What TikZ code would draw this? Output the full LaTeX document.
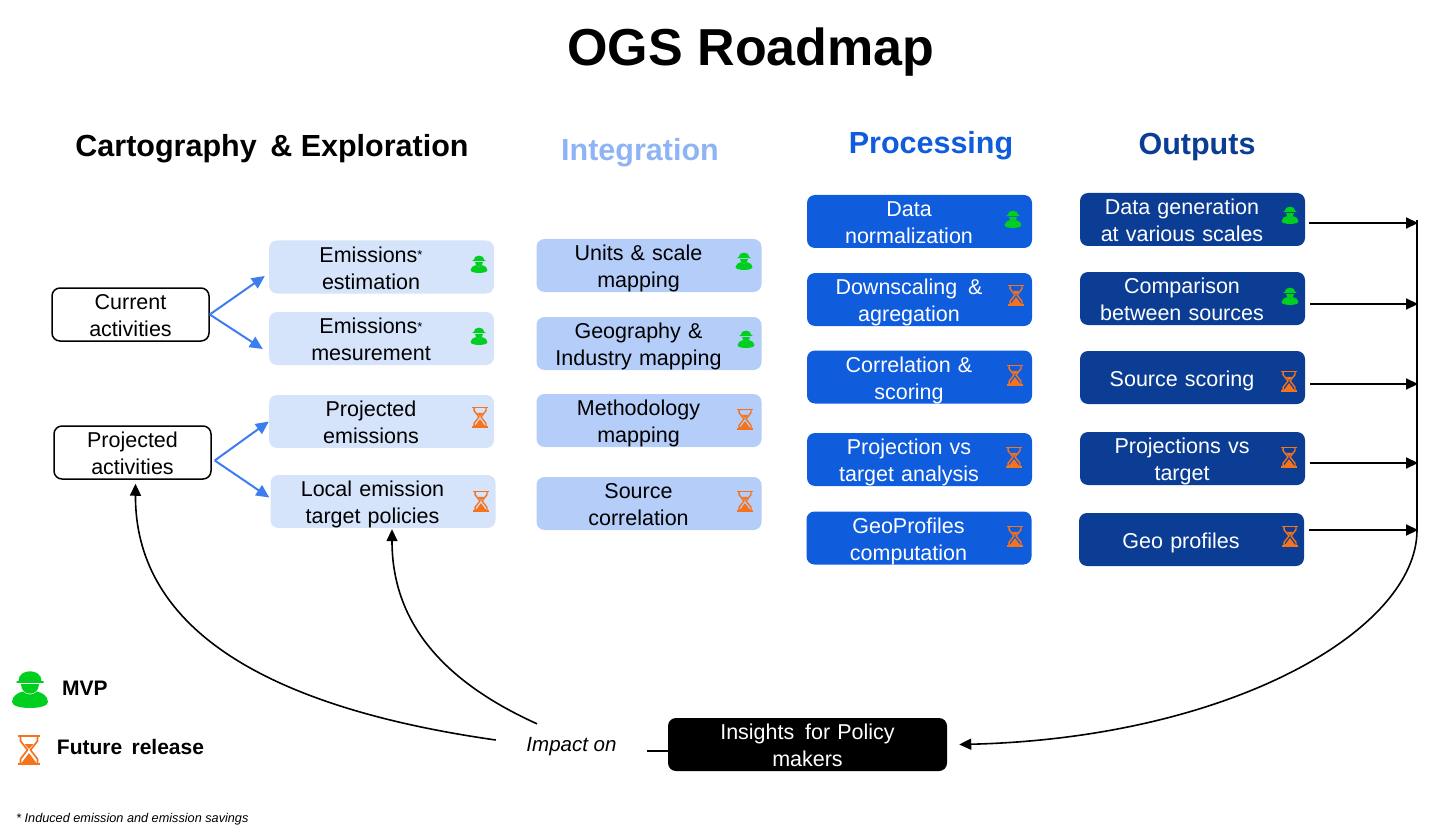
\documentclass[tikz,border=0pt]{standalone}
\usepackage{fontspec}
\setmainfont{Liberation Sans}
\usetikzlibrary{arrows.meta}
\definecolor{lightblue}{HTML}{D6E4FB}
\definecolor{midblue}{HTML}{B5CDF9}
\definecolor{headblue}{HTML}{8FB4F5}
\definecolor{strongblue}{HTML}{0F5CDD}
\definecolor{darkblue}{HTML}{0B3D95}
\definecolor{arrowblue}{HTML}{3C7EEE}
\definecolor{mvpgreen}{HTML}{00CF1F}
\definecolor{futureorange}{HTML}{F5731C}
\tikzset{
    boxbase/.style={inner xsep=0pt,inner ysep=0pt,minimum height=53pt,rounded corners=8pt,
        font=\fontsize{21.5}{27}\selectfont,
        execute at begin node={\rule{0pt}{21.5pt}},execute at end node={\rule[-4.5pt]{0pt}{0pt}}},
    roadbox/.style={boxbase,text width=225pt,
        execute at begin node={\parindent=0pt\leftskip=0pt plus 1fil\rightskip=21pt plus 1fil\parfillskip=0pt\rule{0pt}{21.5pt}}},
    lightbox/.style={roadbox,fill=lightblue},
    midbox/.style={roadbox,fill=midblue},
    strongbox/.style={roadbox,fill=strongblue,text=white},
    darkbox/.style={roadbox,fill=darkblue,text=white},
    activity/.style={boxbase,draw=black,line width=1.5pt,fill=white,text width=157pt,align=center},
    heading/.style={font=\bfseries\fontsize{30.5}{36}\selectfont},
    legend/.style={font=\bfseries\fontsize{21}{25}\selectfont},
    bluearrow/.style={->,draw=arrowblue,line width=2pt,>={Triangle[length=13pt,width=12pt]}},
    railarrow/.style={->,line width=2pt},
    feedback/.style={->,line width=1.6pt},
    pics/worker/.style={code={
        \fill[mvpgreen] (-11.5,-8) .. controls (-11.5,-21) and (11.5,-21) .. (11.5,-8) -- (13.5,-8) -- (13.5,-6.2) -- (-13.5,-6.2) -- (-13.5,-8) -- cycle;
        \fill[mvpgreen] (-9,-5.2) .. controls (-9,8) and (9,8) .. (9,-5.2) -- cycle;
        \fill[mvpgreen] (-18,13) .. controls (-18,7) and (-12,3.5) .. (-7,2.5) .. controls (-3,6.5) and (3,6.5) .. (7,2.5) .. controls (12,3.5) and (18,7) .. (18,13) .. controls (18,21) and (-18,21) .. (-18,13) -- cycle;
    }},
    pics/glass/.style={code={
        \draw[futureorange] (-11,-14) -- (11,-14) (-11,14) -- (11,14);
        \draw[futureorange] (-8.5,-14) -- (-8.5,-9) -- (-1.5,0) -- (-8.5,9) -- (-8.5,14) (8.5,-14) -- (8.5,-9) -- (1.5,0) -- (8.5,9) -- (8.5,14);
        \fill[futureorange] (-4.5,-6) -- (4.5,-6) -- (0,-1) -- cycle;
        \fill[futureorange] (0,3) -- (-7.5,13) -- (7.5,13) -- cycle;
    }},
}
\begin{document}
\begin{tikzpicture}[x=1pt,y=-1pt,>={Triangle[length=12pt,width=11pt]}]
    \useasboundingbox (0,0) rectangle (1450,834);

    \node[font=\bfseries\fontsize{52}{60}\selectfont] (title) at (751,52) {OGS Roadmap};
    \node[heading] (carto) at (272,149) {Cartography\, \& Exploration};
    \node[heading,text=headblue] (integ) at (640,153) {Integration};
    \node[heading,text=strongblue] (proc) at (931,146) {Processing};
    \node[heading,text=darkblue] (outp) at (1197,147) {Outputs};

    % activities
    \node[activity] (current) at (130.5,314.5) {Current\\activities};
    \node[activity] (projected) at (132.5,452.5) {Projected\\activities};

    % cartography
    \newcommand{\smallstar}{{\fontsize{13}{13}\selectfont\raisebox{2pt}{*}}}
    \node[lightbox] (emest) at (381.5,267) {Emissions\smallstar\\estimation};
    \node[lightbox] (emmes) at (381.5,338.5) {Emissions\smallstar\\mesurement};
    \node[lightbox] (projem) at (381.5,421.5) {Projected\\emissions};
    \node[lightbox] (localem) at (383,501.5) {Local emission\\target policies};

    % integration
    \node[midbox] (units) at (649,265.5) {Units \& scale\\mapping};
    \node[midbox] (geo) at (649,343.5) {Geography \&\\Industry mapping};
    \node[midbox] (method) at (649,420.5) {Methodology\\mapping};
    \node[midbox] (source) at (649,503.5) {Source\\correlation};

    % processing
    \node[strongbox] (norm) at (919.5,221.5) {Data\\normalization};
    \node[strongbox] (down) at (919.5,299.5) {Downscaling\, \&\\agregation};
    \node[strongbox] (corr) at (919.5,377) {Correlation \&\\scoring};
    \node[strongbox] (target) at (919.5,459.5) {Projection vs\\target analysis};
    \node[strongbox] (profiles) at (919,538) {GeoProfiles\\computation};

    % outputs
    \node[darkbox] (datagen) at (1192.5,219.5) {Data generation\\at various scales};
    \node[darkbox] (compare) at (1192.5,298.5) {Comparison\\between sources};
    \node[darkbox] (scoring) at (1192.5,377.5) {Source scoring};
    \node[darkbox] (vstarget) at (1192.5,458.5) {Projections vs\\target};
    \node[darkbox] (geoprof) at (1191.5,539.5) {Geo profiles};

    % status icons
    \foreach \px/\py in {479/264,479/336,744/261,746/339,1013/219,1290/215,1290/296}
        \pic[scale=0.47] at (\px,\py) {worker};
    \foreach \px/\py in {480/417,481/501,745/419,745/501,1016/295,1015/375,1014/457,1015/536,1289/381,1289/457,1290/536}
        \pic[scale=0.7,line width=1.4pt] at (\px,\py) {glass};

    \draw[bluearrow] (current.east) -- ([shift={(-4,9)}]emest.west);
    \draw[bluearrow] (current.east) -- ([shift={(-6,10.5)}]emmes.west);
    \draw[bluearrow] ([shift={(3,8)}]projected.east) -- (projem.west);
    \draw[bluearrow] ([shift={(3,8)}]projected.east) -- ([shift={(-1,-4)}]localem.west);

    % bottom row
    \node[boxbase,fill=black,text=white,text width=279pt,align=center] (insights) at (807.5,744.5) {Insights\, for Policy\\makers};
    \node[inner sep=0pt,minimum width=151pt,minimum height=41pt,font=\itshape\fontsize{20.5}{25}\selectfont] (impact) at (571.5,747) {Impact on};

    % rail on the right
    \coordinate (railtop) at (1417,220);
    \coordinate (rail1) at (1418,223);
    \coordinate (rail2) at (1418,304);
    \coordinate (rail3) at (1418,384);
    \coordinate (rail4) at (1418,463);
    \coordinate (rail5) at (1418,530);
    \coordinate (railend) at (1417,530);
    \draw[railarrow] ([shift={(4,3.5)}]datagen.east) -- (rail1);
    \draw[railarrow] ([shift={(5,5.5)}]compare.east) -- (rail2);
    \draw[railarrow] ([shift={(5,6.5)}]scoring.east) -- (rail3);
    \draw[railarrow] ([shift={(5,4.5)}]vstarget.east) -- (rail4);
    \draw[railarrow] ([shift={(5,-9.5)}]geoprof.east) -- (rail5);
    \draw[line width=2pt] (railtop) -- (railend);

    \draw[feedback] (railend) .. controls (1417,630) and (1230,738) .. ([shift={(12,0)}]insights.east);
    \draw[feedback] ([shift={(0,-7)}]impact.west) .. controls (250,705) and (135,620) .. ([shift={(3,4)}]projected.south);
    \draw[feedback] ([shift={(-34.5,-2.5)}]impact.north) .. controls (440,680) and (392,620) .. ([shift={(9,1)}]localem.south);
    \draw[line width=1.6pt] ([shift={(0,4)}]impact.east) -- ([shift={(0,6.5)}]insights.west);

    % legend
    \pic at (30,689) {worker};
    \pic[line width=1.7pt] at (29,750) {glass};
    \node[legend] (mvp) at (85,688) {MVP};
    \node[legend] (future) at (130.5,747) {Future\, release};
    \node[anchor=west,inner sep=0pt,font=\itshape\fontsize{12.7}{15}\selectfont] (induced) at (16,819) {* Induced emission and emission savings};
\end{tikzpicture}
\end{document}
